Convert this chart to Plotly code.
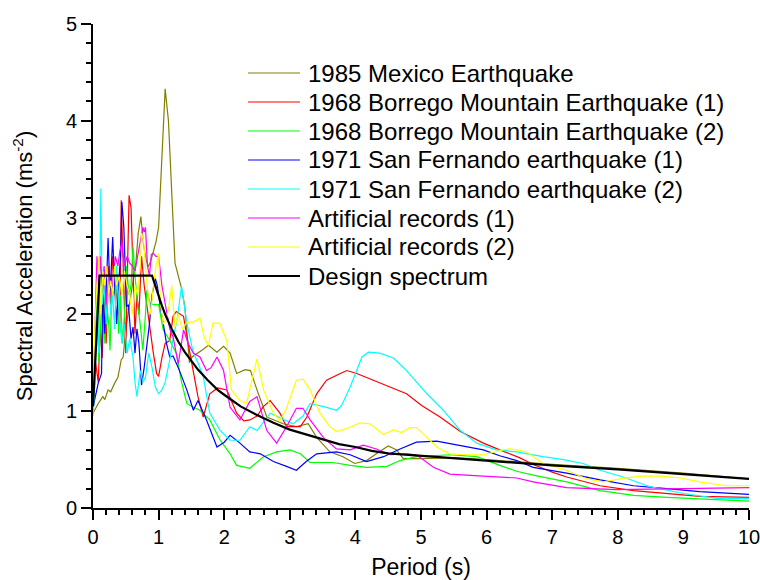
import plotly.graph_objects as go

# ---------------- data ----------------
mexico_T = [0, 0.08, 0.15, 0.18, 0.23, 0.27, 0.33, 0.38, 0.43, 0.46, 0.5, 0.55, 0.6, 0.65, 0.69, 0.73,
            0.77, 0.8, 0.84, 0.88, 0.92, 0.96, 1.0, 1.05, 1.10, 1.15, 1.25, 1.35, 1.40, 1.47, 1.51,
            1.66, 1.76, 1.89, 1.99, 2.09, 2.19, 2.32, 2.40, 2.5, 2.65, 2.9, 3.1, 3.28, 3.41, 3.61,
            3.81, 3.99, 4.17, 4.32, 4.5, 4.63, 4.73, 5.04, 5.5, 6, 7, 8, 9, 10]
mexico_A = [0.98, 1.08, 1.15, 1.12, 1.22, 1.2, 1.29, 1.35, 1.53, 1.56, 1.85, 2.1, 2.3, 2.5, 2.84, 3.01,
            2.72, 2.6, 2.49, 2.55, 2.66, 2.75, 2.9, 3.7, 4.33, 4.0, 2.53, 2.27, 2.08, 1.5, 1.56,
            1.63, 1.68, 1.61, 1.67, 1.6, 1.39, 1.43, 1.42, 1.22, 0.94, 0.87, 0.84, 0.87, 0.73, 0.58,
            0.53, 0.46, 0.49, 0.56, 0.64, 0.6, 0.51, 0.51, 0.52, 0.50, 0.45, 0.41, 0.36, 0.30]

borrego1_T = [0, 0.04, 0.08, 0.11, 0.14, 0.17, 0.2, 0.24, 0.27, 0.3, 0.34, 0.38, 0.41, 0.43, 0.46, 0.5,
              0.53, 0.55, 0.58, 0.61, 0.64, 0.67, 0.7, 0.74, 0.78, 0.82, 0.87, 0.92, 0.97, 1.0, 1.05,
              1.1, 1.17, 1.22, 1.27, 1.33, 1.38, 1.45, 1.53, 1.6, 1.68, 1.78, 1.9, 2.04, 2.19, 2.3,
              2.39, 2.5, 2.6, 2.7, 2.85, 2.95, 3.16, 3.26, 3.41, 3.56, 3.77, 3.87, 4.02, 4.27, 4.53,
              4.78, 5.01, 5.29, 5.6, 5.95, 6.2, 6.5, 6.71, 7.0, 7.22, 7.73, 8.24, 8.75, 9.25, 10]
borrego1_A = [1.2, 1.5, 1.3, 1.87, 1.55, 2.2, 1.7, 2.5, 2.1, 2.6, 2.32, 2.1, 1.9, 3.18, 2.4, 1.6,
              2.6, 3.23, 3.1, 2.3, 1.8, 2.2, 2.0, 2.6, 2.3, 2.1, 1.84, 1.6, 1.39, 1.36, 1.55,
              1.7, 1.73, 1.98, 2.03, 2.0, 1.98, 1.7, 1.42, 1.15, 0.94, 1.18, 1.24, 1.22, 0.98, 0.9,
              0.91, 0.95, 1.05, 1.11, 0.98, 0.84, 0.84, 0.94, 1.18, 1.32, 1.39, 1.42, 1.39, 1.32, 1.25,
              1.18, 1.06, 0.94, 0.79, 0.67, 0.6, 0.52, 0.45, 0.37, 0.32, 0.23, 0.18, 0.15, 0.12, 0.11]

borrego2_T = [0, 0.03, 0.06, 0.09, 0.12, 0.15, 0.18, 0.21, 0.24, 0.26, 0.29, 0.32, 0.34, 0.36, 0.39, 0.42,
              0.45, 0.48, 0.51, 0.55, 0.58, 0.61, 0.64, 0.68, 0.72, 0.76, 0.8, 0.82, 0.87, 0.93, 1.0,
              1.07, 1.17, 1.27, 1.35, 1.43, 1.53, 1.63, 1.78, 1.94, 2.09, 2.19, 2.39, 2.6, 2.8, 3.0,
              3.16, 3.31, 3.66, 3.92, 4.17, 4.48, 4.68, 4.93, 5.44, 5.85, 6.2, 6.46, 6.71, 7.22, 7.73,
              8.24, 8.75, 10]
borrego2_A = [1.1, 1.6, 2.2, 1.5, 2.0, 2.4, 1.7, 2.1, 1.9, 1.63, 2.3, 2.2, 2.29, 2.39, 1.8, 2.2,
              1.7, 2.0, 2.5, 2.2, 2.3, 2.7, 2.4, 2.1, 1.9, 1.63, 2.0, 2.25, 2.11, 2.1, 2.1,
              1.84, 1.73, 1.6, 1.3, 1.08, 1.04, 1.01, 0.91, 0.7, 0.56, 0.44, 0.41, 0.53, 0.58, 0.6,
              0.56, 0.47, 0.47, 0.44, 0.42, 0.43, 0.49, 0.53, 0.55, 0.53, 0.44, 0.38, 0.34, 0.27, 0.18,
              0.13, 0.11, 0.07]

fernando1_T = [0, 0.04, 0.08, 0.13, 0.15, 0.18, 0.21, 0.23, 0.26, 0.3, 0.33, 0.36, 0.39, 0.42, 0.44, 0.47,
               0.51, 0.54, 0.58, 0.61, 0.64, 0.67, 0.7, 0.74, 0.78, 0.82, 0.86, 0.9, 0.95, 0.98, 1.02,
               1.07, 1.12, 1.17, 1.22, 1.3, 1.43, 1.53, 1.6, 1.73, 1.89, 2.0, 2.09, 2.24, 2.39, 2.55,
               2.75, 2.95, 3.1, 3.25, 3.41, 3.71, 3.92, 4.17, 4.43, 4.68, 4.93, 5.24, 5.54, 5.95, 6.2,
               6.46, 6.71, 7.22, 7.73, 8.24, 8.75, 9.25, 10]
fernando1_A = [1.04, 1.15, 1.29, 1.39, 2.3, 1.8, 2.5, 2.79, 2.2, 2.8, 2.3, 1.9, 2.3, 2.6, 3.16, 2.9,
               2.08, 2.1, 1.75, 1.87, 1.6, 1.85, 1.7, 1.27, 1.45, 1.67, 1.9, 2.2, 2.37, 2.3, 2.1,
               1.91, 1.7, 1.56, 1.57, 1.45, 1.22, 1.01, 1.11, 0.91, 0.63, 0.68, 0.75, 0.67, 0.58, 0.56,
               0.48, 0.43, 0.39, 0.48, 0.56, 0.58, 0.55, 0.48, 0.53, 0.61, 0.68, 0.69, 0.65, 0.6, 0.54,
               0.49, 0.42, 0.36, 0.29, 0.23, 0.2, 0.17, 0.14]

fernando2_T = [0, 0.03, 0.06, 0.09, 0.12, 0.14, 0.17, 0.2, 0.24, 0.27, 0.3, 0.33, 0.36, 0.4, 0.44, 0.48,
               0.52, 0.56, 0.61, 0.64, 0.67, 0.72, 0.76, 0.8, 0.85, 0.9, 0.95, 1.0, 1.05, 1.1, 1.17,
               1.22, 1.28, 1.35, 1.43, 1.53, 1.6, 1.68, 1.78, 1.94, 2.09, 2.24, 2.39, 2.5, 2.7, 2.85,
               3.05, 3.2, 3.31, 3.56, 3.71, 3.79, 3.92, 4.1, 4.2, 4.37, 4.58, 4.78, 5.09, 5.34, 5.6,
               5.85, 6.15, 6.46, 6.86, 7.17, 7.47, 7.73, 8.08, 8.49, 9.0, 9.51, 10]
fernando2_A = [0.95, 1.3, 2.0, 1.6, 3.3, 2.1, 2.3, 1.9, 2.4, 2.0, 2.2, 1.85, 2.5, 2.0, 1.7, 1.9,
               1.6, 1.75, 1.56, 1.3, 1.15, 1.42, 1.3, 1.35, 1.6, 1.45, 1.25, 1.18, 1.22, 1.3, 1.53,
               1.75, 1.94, 2.29, 1.91, 1.6, 1.5, 1.36, 0.98, 0.8, 0.7, 0.7, 0.84, 0.8, 0.98, 0.93,
               0.87, 0.95, 1.08, 1.04, 1.01, 1.06, 1.25, 1.56, 1.61, 1.6, 1.55, 1.42, 1.18, 1.01, 0.8,
               0.67, 0.6, 0.58, 0.53, 0.5, 0.46, 0.39, 0.32, 0.22, 0.15, 0.1, 0.1]

artificial1_T = [0, 0.03, 0.06, 0.09, 0.11, 0.14, 0.17, 0.2, 0.23, 0.26, 0.3, 0.34, 0.38, 0.41, 0.44, 0.48,
                 0.52, 0.56, 0.6, 0.64, 0.68, 0.72, 0.76, 0.78, 0.8, 0.83, 0.86, 0.89, 0.92, 0.96, 1.0,
                 1.05, 1.12, 1.17, 1.22, 1.3, 1.38, 1.45, 1.53, 1.63, 1.73, 1.8, 1.89, 1.99, 2.09, 2.24,
                 2.39, 2.5, 2.65, 2.8, 2.95, 3.1, 3.2, 3.31, 3.51, 3.71, 3.92, 4.12, 4.32, 4.53, 4.78,
                 4.93, 5.19, 5.44, 5.95, 6.46, 6.71, 7.22, 7.98, 8.75, 10]
artificial1_A = [1.1, 1.8, 2.6, 2.2, 2.6, 2.3, 2.5, 2.1, 2.4, 2.2, 2.3, 2.6, 2.5, 2.66, 2.75, 2.5,
                 2.6, 2.53, 2.5, 2.45, 2.6, 2.73, 2.9, 2.85, 2.9, 2.5, 2.4, 2.62, 2.63, 2.6, 2.6,
                 2.3, 2.04, 1.85, 1.77, 1.49, 1.84, 1.7, 1.6, 1.56, 1.42, 1.45, 1.56, 1.42, 1.04, 0.91,
                 1.1, 1.15, 0.8, 0.67, 0.84, 1.03, 1.03, 0.91, 0.73, 0.61, 0.6, 0.65, 0.61, 0.55, 0.56,
                 0.55, 0.42, 0.35, 0.33, 0.31, 0.27, 0.21, 0.19, 0.2, 0.21]

artificial2_T = [0, 0.03, 0.06, 0.09, 0.12, 0.15, 0.18, 0.21, 0.24, 0.27, 0.3, 0.33, 0.36, 0.4, 0.44, 0.48,
                 0.52, 0.56, 0.6, 0.64, 0.68, 0.72, 0.74, 0.77, 0.8, 0.84, 0.88, 0.92, 0.96, 1.0, 1.03,
                 1.07, 1.12, 1.16, 1.2, 1.25, 1.3, 1.36, 1.43, 1.53, 1.63, 1.7, 1.76, 1.83, 1.93, 2.04,
                 2.11, 2.24, 2.34, 2.5, 2.6, 2.75, 2.85, 2.95, 3.1, 3.2, 3.31, 3.46, 3.61, 3.71, 3.87,
                 4.07, 4.22, 4.43, 4.58, 4.7, 4.83, 4.93, 5.09, 5.24, 5.44, 5.7, 5.95, 6.25, 6.36, 6.61,
                 6.86, 7.22, 7.53, 7.78, 8.03, 8.34, 8.65, 8.95, 9.25, 9.66, 10]
artificial2_A = [1.2, 1.9, 2.3, 2.6, 2.0, 2.45, 2.3, 2.5, 2.2, 2.35, 2.2, 2.5, 2.3, 2.4, 2.2, 2.45,
                 2.3, 2.2, 2.0, 2.3, 2.2, 2.5, 2.84, 2.77, 2.5, 2.2, 2.0, 2.3, 2.5, 2.63, 2.1,
                 1.9, 1.95, 2.1, 2.3, 1.87, 2.0, 1.85, 1.92, 1.92, 1.96, 1.75, 1.68, 1.91, 1.91, 1.73,
                 1.22, 1.11, 1.08, 1.54, 1.22, 0.98, 0.9, 1.03, 1.32, 1.33, 1.22, 0.98, 0.84, 0.79, 0.82,
                 0.88, 0.87, 0.76, 0.81, 0.78, 0.83, 0.83, 0.73, 0.63, 0.56, 0.55, 0.55, 0.6, 0.61, 0.58,
                 0.46, 0.39, 0.3, 0.27, 0.3, 0.33, 0.33, 0.31, 0.27, 0.23, 0.23]

design_T = [0, 0.1, 0.9, 0.95, 1.0, 1.05, 1.1, 1.15, 1.2, 1.3, 1.4, 1.5, 1.6, 1.75, 1.9, 2.0, 2.25,
            2.5, 2.75, 3.0, 3.25, 3.5, 3.75, 4.0, 4.25, 4.5, 5, 6, 7, 8, 9, 10]
design_A = [1.05, 2.4, 2.4, 2.29, 2.18, 2.09, 2.0, 1.92, 1.85, 1.72, 1.61, 1.52, 1.43, 1.32, 1.22, 1.17, 1.05,
            0.96, 0.88, 0.81, 0.76, 0.71, 0.66, 0.63, 0.59, 0.564, 0.54, 0.49, 0.44, 0.40, 0.35, 0.30]

series_names = ["1985 Mexico Earthquake",
                "1968 Borrego Mountain Earthquake (1)",
                "1968 Borrego Mountain Earthquake (2)",
                "1971 San Fernando earthquake (1)",
                "1971 San Fernando earthquake (2)",
                "Artificial records (1)",
                "Artificial records (2)",
                "Design spectrum"]
series_T = [mexico_T, borrego1_T, borrego2_T, fernando1_T, fernando2_T, artificial1_T, artificial2_T, design_T]
series_A = [mexico_A, borrego1_A, borrego2_A, fernando1_A, fernando2_A, artificial1_A, artificial2_A, design_A]
series_colors = ["#808000", "#FF0000", "#00FF00", "#0000FF", "#00FFFF", "#FF00FF", "#FFFF00", "#000000"]
series_widths = [1.2, 1.2, 1.2, 1.2, 1.2, 1.2, 1.2, 2.2]

FONT = "Liberation Sans, Arial, sans-serif"

fig = go.Figure()
for name, t, a, c, w in zip(series_names, series_T, series_A, series_colors, series_widths):
    fig.add_trace(go.Scatter(x=t, y=a, mode="lines", name=name, showlegend=False,
                             line=dict(color=c, width=w)))

# ---- layout geometry (pixels) ----
W, H = 760, 580
ML, MR, MT, MB = 93, 11, 24, 72
PW, PH = W - ML - MR, H - MT - MB

def px_to_paper_x(px):
    return (px - ML) / PW

def px_to_paper_y(py):
    return (H - MB - py) / PH

# ---- legend drawn as plain decorations (line sample + text) ----
LEG_X0, LEG_X1, LEG_TX, LEG_Y0, LEG_DY = 248, 300, 306, 73, 29
for i, (name, c, w) in enumerate(zip(series_names, series_colors, series_widths)):
    yy = px_to_paper_y(LEG_Y0 + i * LEG_DY)
    fig.add_shape(type="line", xref="paper", yref="paper",
                  x0=px_to_paper_x(LEG_X0), x1=px_to_paper_x(LEG_X1), y0=yy, y1=yy,
                  line=dict(color=c, width=w))
    fig.add_annotation(xref="paper", yref="paper", x=px_to_paper_x(LEG_TX), y=yy,
                       xanchor="left", yanchor="middle", text=name, showarrow=False,
                       font=dict(family=FONT, size=24, color="black"))

axis_common = dict(
    showline=True, linecolor="black", linewidth=2,
    ticks="outside", ticklen=10, tickwidth=2, tickcolor="black",
    showgrid=False, zeroline=False, mirror=False,
    ticklabeloverflow="allow",
    tickfont=dict(family=FONT, size=20, color="black"),
    minor=dict(ticks="outside", ticklen=5, tickwidth=2, tickcolor="black", dtick=0.2, showgrid=False),
)

fig.update_xaxes(range=[0, 10], dtick=1, tick0=0,
                 title=dict(text="Period (s)", font=dict(family=FONT, size=23, color="black"), standoff=14),
                 **axis_common)
fig.update_yaxes(range=[0, 5], dtick=1, tick0=0,
                 title=dict(text="Spectral Acceleration (ms<sup>-2</sup>)",
                            font=dict(family=FONT, size=22, color="black"), standoff=27),
                 **axis_common)

fig.update_layout(
    width=W, height=H,
    margin=dict(l=ML, r=MR, t=MT, b=MB, autoexpand=False),
    paper_bgcolor="white", plot_bgcolor="white",
    font=dict(family=FONT, color="black"),
    showlegend=False,
)

fig.write_html("out.html")
